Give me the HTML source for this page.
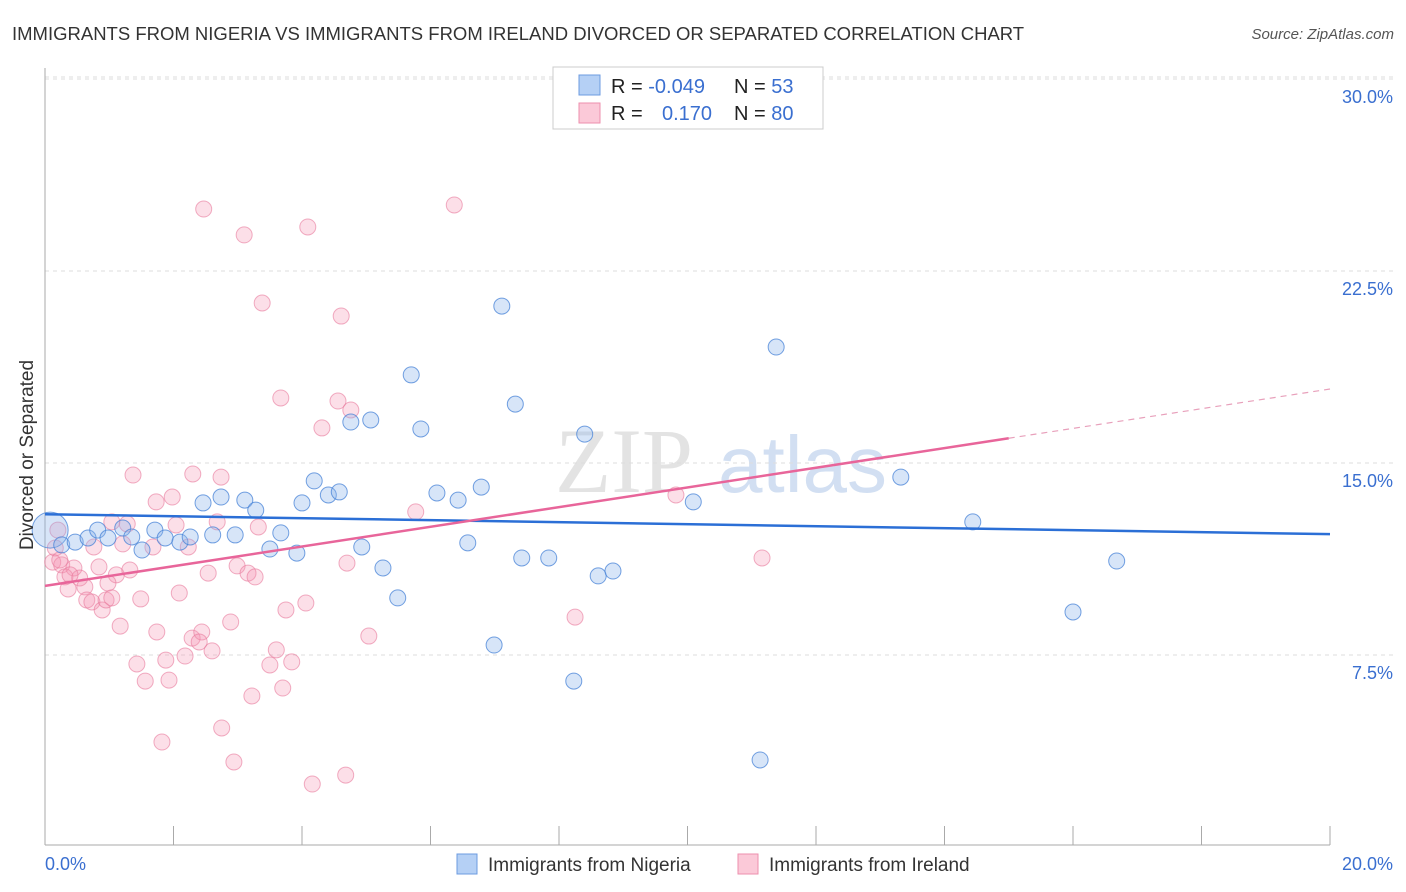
<!DOCTYPE html>
<html><head><meta charset="utf-8"><style>
body{margin:0;background:#fff;font-family:"Liberation Sans",sans-serif;}
svg{display:block}
</style></head><body>
<svg id="chart" width="1406" height="892" xmlns="http://www.w3.org/2000/svg">
<text x="12" y="40" font-size="18.5" fill="#333">IMMIGRANTS FROM NIGERIA VS IMMIGRANTS FROM IRELAND DIVORCED OR SEPARATED CORRELATION CHART</text>
<text x="1394" y="39" font-size="15" fill="#555" text-anchor="end" font-style="italic">Source: ZipAtlas.com</text>
<g><text x="555" y="492" font-size="92" fill="#ddd" font-family="Liberation Serif,serif" opacity="0.8">ZIP</text><text x="718" y="492" font-size="80" fill="#c7d8ef" opacity="0.8">atlas</text></g>
<g id="grid"></g>
<g id="axes"></g>
<g id="marks"></g>
<text transform="translate(33,455) rotate(-90)" font-size="19" fill="#333" text-anchor="middle">Divorced or Separated</text>
<g>
<rect x="553" y="67" width="270" height="62" fill="#fff" stroke="#ccc"/>
<rect x="579" y="75" width="21" height="20" fill="#b5d0f5" stroke="#6c9be0"/>
<rect x="579" y="103" width="21" height="20" fill="#fbc9d8" stroke="#ee8fae"/>
<text x="611" y="93" font-size="20" fill="#222">R = <tspan fill="#3a6fd0">-0.049</tspan></text>
<text x="734" y="93" font-size="20" fill="#222">N = <tspan fill="#3a6fd0"> 53</tspan></text>
<text x="611" y="120" font-size="20" fill="#222">R = <tspan fill="#3a6fd0" x="662">0.170</tspan></text>
<text x="734" y="120" font-size="20" fill="#222">N = <tspan fill="#3a6fd0">80</tspan></text>
</g>
<g>
<rect x="457" y="854" width="20" height="20" fill="#b5d0f5" stroke="#6c9be0"/>
<text x="488" y="871" font-size="19" fill="#333">Immigrants from Nigeria</text>
<rect x="738" y="854" width="20" height="20" fill="#fbc9d8" stroke="#ee8fae"/>
<text x="769" y="871" font-size="19" fill="#333">Immigrants from Ireland</text>
</g>
</svg>
<script>
const yTicks=[7.5,15,22.5,30];
const yTickLabels=["7.5%","15.0%","22.5%","30.0%"];
const xTicks=[0,2,4,6,8,10,12,14,16,18,20];
const xTickLabels=["0.0%","20.0%"];
const nigeriaX=[0.08,0.26,0.47,0.67,0.82,0.98,1.21,1.35,1.51,1.71,1.87,2.10,2.26,2.46,2.61,2.74,2.96,3.11,3.28,3.50,3.67,3.92,4.00,4.19,4.41,4.58,4.76,4.93,5.07,5.26,5.49,5.70,5.85,6.10,6.43,6.58,6.79,6.99,7.11,7.32,7.42,7.84,8.23,8.40,8.61,8.84,10.09,11.13,11.38,13.32,14.44,16.00,16.68];
const nigeriaY=[12.38,11.80,11.91,12.07,12.38,12.07,12.46,12.11,11.60,12.38,12.07,11.91,12.11,13.44,12.19,13.67,12.19,13.55,13.16,11.64,12.27,11.48,13.44,14.30,13.75,13.87,16.60,11.72,16.68,10.90,9.73,18.44,16.33,13.83,13.55,11.88,14.06,7.89,21.13,17.30,11.29,11.29,6.48,16.13,10.59,10.78,13.48,3.40,19.53,14.45,12.70,9.18,11.17];
const irelandX=[1.37,2.30,2.74,1.73,1.98,1.04,1.28,2.04,2.68,3.32,0.76,1.21,1.68,2.23,0.12,0.26,0.45,0.31,0.54,0.84,1.11,1.32,0.36,0.62,0.98,2.54,2.99,3.16,3.27,0.65,0.73,0.89,0.95,1.49,2.09,1.17,1.74,2.29,2.44,2.40,2.60,2.89,3.75,4.06,1.43,1.88,2.18,3.60,3.50,3.84,1.56,1.93,3.22,3.70,2.75,1.82,4.70,2.47,3.10,4.09,6.37,3.38,4.61,3.67,4.56,4.76,4.31,5.77,5.04,8.25,9.82,11.16,2.94,4.16,4.68,0.16,0.23,0.39,0.20,1.04];
const irelandY=[14.53,14.57,14.45,13.48,13.67,12.70,12.62,12.58,12.70,12.50,11.72,11.84,11.72,11.72,11.13,11.02,10.90,10.55,10.51,10.94,10.63,10.82,10.08,10.16,10.31,10.70,10.98,10.70,10.55,9.65,9.57,9.26,9.65,9.69,9.92,8.63,8.40,8.16,8.40,8.01,7.66,8.79,9.26,9.53,7.15,7.30,7.46,7.70,7.11,7.23,6.48,6.52,5.90,6.21,4.65,4.10,11.09,24.92,23.91,24.22,25.08,21.25,20.74,17.54,17.42,17.07,16.37,13.09,8.24,8.98,13.75,11.29,3.32,2.46,2.81,11.68,11.21,10.63,12.38,9.73];
const nigeriaTrend=[13.0,-0.039];
const irelandTrend=[10.2,0.3845];
const irelandSolidEnd=15.0;

const NS="http://www.w3.org/2000/svg";
const X=v=>45+v/20*1285;
const Y=v=>847-v/7.5*192;
function mk(tag,attrs,parent){const e=document.createElementNS(NS,tag);for(const k in attrs)e.setAttribute(k,attrs[k]);parent.appendChild(e);return e;}
const gridG=document.getElementById('grid'),axesG=document.getElementById('axes'),marksG=document.getElementById('marks');
yTicks.forEach((t,i)=>{
 const l=mk('line',{x1:45,x2:1393,y1:Y(t),y2:Y(t),stroke:'#ddd','stroke-dasharray':'4,4'},gridG);
 
 
 const tx=mk('text',{x:1393,y:Y(t)+24,'font-size':18,fill:'#3a6fd0','text-anchor':'end'},axesG);
 tx.textContent=yTickLabels[i];
 
 
});
const topGrid=mk('line',{x1:45,x2:1393,y1:Y(30)-2,y2:Y(30)-2,stroke:'#ddd','stroke-dasharray':'4,4'},gridG);


const ya=mk('line',{x1:45,x2:45,y1:68,y2:845,stroke:'#aaa'},axesG);


const xa=mk('line',{x1:45,x2:1330,y1:845,y2:845,stroke:'#aaa'},axesG);


xTicks.forEach(t=>{
 const l=mk('line',{x1:X(t),x2:X(t),y1:826,y2:845,stroke:'#aaa'},axesG);
 
 
});
[[0,'start',45],[20,'end',1393]].forEach((d,i)=>{
 const tx=mk('text',{x:d[2],y:870,'font-size':18,fill:'#3a6fd0','text-anchor':d[1]},axesG);
 tx.textContent=xTickLabels[i];
 
 
});
irelandX.forEach((x,i)=>{
 const c=mk('circle',{cx:X(x),cy:Y(irelandY[i]),r:8,fill:'rgba(244,150,180,0.3)',stroke:'rgba(232,120,155,0.6)','stroke-width':1},marksG);
 
 
});
nigeriaX.forEach((x,i)=>{
 const c=mk('circle',{cx:X(x),cy:Y(nigeriaY[i]),r:i===0?18:8,fill:'rgba(140,180,235,0.35)',stroke:'rgba(70,130,215,0.75)','stroke-width':1},marksG);
 
 
});
const bt=mk('line',{x1:X(0),x2:X(20),y1:Y(nigeriaTrend[0]),y2:Y(nigeriaTrend[0]+nigeriaTrend[1]*20),stroke:'#2b6fd6','stroke-width':2.5},marksG);


const pt=mk('line',{x1:X(0),x2:X(irelandSolidEnd),y1:Y(irelandTrend[0]),y2:Y(irelandTrend[0]+irelandTrend[1]*irelandSolidEnd),stroke:'#e8659a','stroke-width':2.5},marksG);


const pd=mk('line',{x1:X(irelandSolidEnd),x2:X(20),y1:Y(irelandTrend[0]+irelandTrend[1]*irelandSolidEnd),y2:Y(irelandTrend[0]+irelandTrend[1]*20),stroke:'#e8a0bb','stroke-width':1.2,'stroke-dasharray':'6,5'},marksG);


</script>
</body></html>
